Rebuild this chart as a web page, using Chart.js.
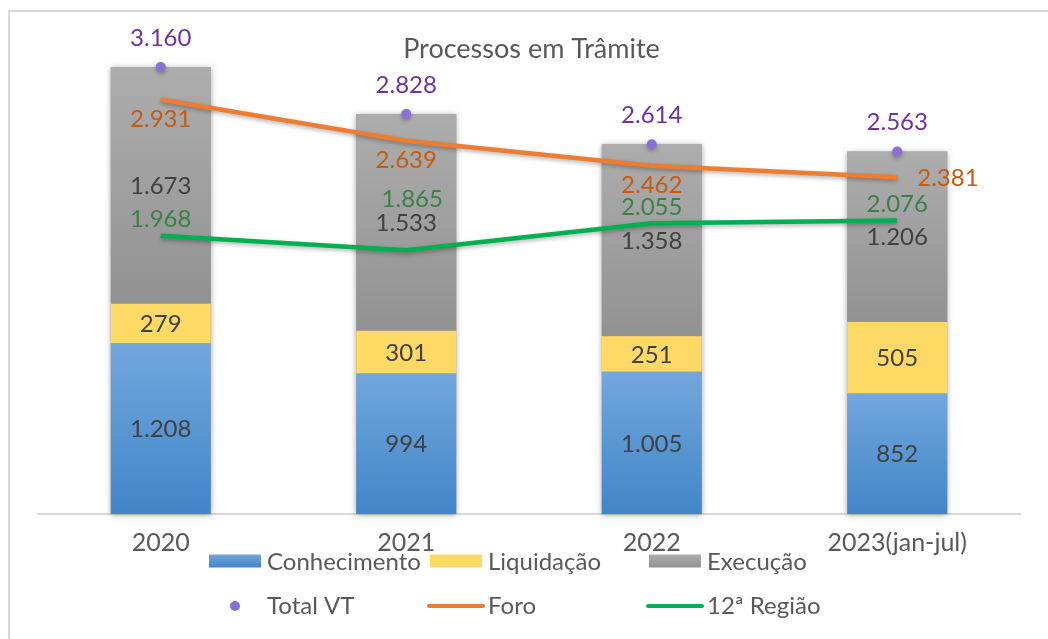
<!DOCTYPE html>
<html>
<head>
<meta charset="utf-8">
<script src="https://cdn.jsdelivr.net/npm/chart.js@4.4.1/dist/chart.umd.min.js"></script>
<style>
  html, body { margin: 0; padding: 0; background: #fff; }
  #wrap { width: 1048px; height: 639px; }
</style>
</head>
<body>
<div id="wrap"><canvas id="chart" width="1048" height="639"></canvas></div>
<script>
// ── Data ──────────────────────────────────────────────────────
const categories   = ['2020', '2021', '2022', '2023(jan-jul)'];
const conhecimento = [1208, 994, 1005, 852];
const liquidacao   = [279, 301, 251, 505];
const execucao     = [1673, 1533, 1358, 1206];
const totalVT      = [3160, 2828, 2614, 2563];
const foro         = [2931, 2639, 2462, 2381];
const regiao12     = [1968, 1865, 2055, 2076];

const FONT = 'Lato, "Open Sans", sans-serif';
const fmt = n => String(n).replace(/\B(?=(\d{3})+(?!\d))/g, '.');

// vertical gradient for one stacked segment, from the y scale
function segGradient(top, bottom, below) {
  return (c) => {
    const chart = c.chart;
    if (!chart.chartArea || c.dataIndex == null) return bottom;
    const y = chart.scales.y;
    const i = c.dataIndex;
    const base = below.reduce((s, arr) => s + arr[i], 0);
    const g = chart.ctx.createLinearGradient(0, y.getPixelForValue(base + c.dataset.data[i]), 0, y.getPixelForValue(base));
    g.addColorStop(0, top);
    g.addColorStop(1, bottom);
    return g;
  };
}

const BLUE = ['#72a7dd', '#4186c8'];
const GRAY = ['#adadad', '#929292'];

// ── Drawing helpers ───────────────────────────────────────────
function text(ctx, str, x, cy, color, size = 24, align = 'center') {
  ctx.font = `${size}px ${FONT}`;
  ctx.fillStyle = color;
  ctx.textAlign = align;
  ctx.textBaseline = 'alphabetic';
  ctx.fillText(str, x, cy + size * 0.36);
}

const decor = {
  id: 'decor',
  beforeDraw(chart) {
    const ctx = chart.ctx;
    ctx.save();
    ctx.fillStyle = '#fff';
    ctx.fillRect(0, 0, chart.width, chart.height);
    ctx.strokeStyle = '#d9d9d9';
    ctx.lineWidth = 2;
    ctx.strokeRect(9, 11, 2000, 2000);
    ctx.restore();
  },
  beforeDatasetsDraw(chart) {
    // soft shadow behind each whole stacked bar
    const ctx = chart.ctx;
    const m0 = chart.getDatasetMeta(0), m2 = chart.getDatasetMeta(2);
    ctx.save();
    ctx.shadowColor = 'rgba(0,0,0,0.35)';
    ctx.shadowBlur = 6;
    ctx.shadowOffsetY = 1;
    ctx.fillStyle = '#999';
    m0.data.forEach((el, i) => {
      const top = m2.data[i];
      ctx.fillRect(el.x - el.width / 2, top.y, el.width, el.base - top.y);
    });
    ctx.restore();
  },
  beforeDatasetDraw(chart, args) {
    if (args.meta.type !== 'line') return;
    const ctx = chart.ctx;
    ctx.save();
    ctx.shadowColor = 'rgba(0,0,0,0.3)';
    ctx.shadowBlur = 4;
    ctx.shadowOffsetY = 2;
  },
  afterDatasetDraw(chart, args) {
    if (args.meta.type === 'line') chart.ctx.restore();
  },
  afterDatasetsDraw(chart) {
    const ctx = chart.ctx;
    ctx.save();
    // values inside bar segments
    [0, 1, 2].forEach(d => {
      chart.getDatasetMeta(d).data.forEach((el, i) => {
        text(ctx, fmt(chart.data.datasets[d].data[i]), el.x, (el.y + el.base) / 2, '#404040');
      });
    });
    // Total VT above dots
    chart.getDatasetMeta(3).data.forEach((el, i) => {
      text(ctx, fmt(totalVT[i]), el.x, el.y - 30, '#7030a0');
    });
    // Foro below line, last point to the right
    chart.getDatasetMeta(4).data.forEach((el, i) => {
      if (i === foro.length - 1) text(ctx, fmt(foro[i]), el.x + 20, el.y, '#c55a11', 24, 'left');
      else text(ctx, fmt(foro[i]), el.x, el.y + 19, '#c55a11');
    });
    // 12ª Região above line (2021 label nudged up, as in the source)
    const nudge = [[0, 0], [6, -35], [0, 0], [0, 0]];
    chart.getDatasetMeta(5).data.forEach((el, i) => {
      text(ctx, fmt(regiao12[i]), el.x + nudge[i][0], el.y - 17 + nudge[i][1], '#3a8048');
    });
    // title
    text(ctx, 'Processos em Trâmite', 531.5, 48.3, '#595959', 27);
    ctx.restore();
  },
  afterDraw(chart) {
    const ctx = chart.ctx;
    const cols = [209, 430, 649];
    const rows = [561, 605];
    const ds = chart.data.datasets;
    ctx.save();
    // row 1: bar series
    [0, 1, 2].forEach(d => {
      const x = cols[d], y = rows[0];
      const stops = d === 0 ? BLUE : d === 2 ? GRAY : null;
      if (stops) {
        const g = ctx.createLinearGradient(0, y - 6.5, 0, y + 6.5);
        g.addColorStop(0, stops[0]); g.addColorStop(1, stops[1]);
        ctx.fillStyle = g;
      } else ctx.fillStyle = '#ffd966';
      ctx.fillRect(x, y - 6.5, 52, 13);
      text(ctx, ds[d].label, x + 58, y, '#595959', 24, 'left');
    });
    // row 2: dot + lines
    [3, 4, 5].forEach((d, k) => {
      const x = cols[k], y = rows[1];
      if (d === 3) {
        ctx.beginPath();
        ctx.arc(x + 26, y + 1, 5, 0, Math.PI * 2);
        ctx.fillStyle = ds[d].pointBackgroundColor;
        ctx.fill();
      } else {
        ctx.beginPath();
        ctx.moveTo(x - 1, y + 1); ctx.lineTo(x + 53, y + 1);
        ctx.strokeStyle = ds[d].borderColor;
        ctx.lineWidth = 4;
        ctx.lineCap = 'round';
        ctx.stroke();
      }
      text(ctx, ds[d].label, x + 58, y, '#595959', 24, 'left');
    });
    ctx.restore();
  },
};

new Chart(document.getElementById('chart'), {
  type: 'bar',
  data: {
    labels: categories,
    datasets: [
      { label: 'Conhecimento', data: conhecimento, stack: 'p', order: 3,
        backgroundColor: segGradient(BLUE[0], BLUE[1], []) },
      { label: 'Liquidação', data: liquidacao, stack: 'p', order: 3,
        backgroundColor: '#ffd966' },
      { label: 'Execução', data: execucao, stack: 'p', order: 3,
        backgroundColor: segGradient(GRAY[0], GRAY[1], [conhecimento, liquidacao]) },
      { type: 'line', label: 'Total VT', data: totalVT, stack: 'vt', order: 0,
        showLine: false, pointRadius: 5, pointBackgroundColor: '#8b6fd6', pointBorderWidth: 0,
        borderColor: '#8b6fd6' },
      { type: 'line', label: 'Foro', data: foro, stack: 'foro', order: 1,
        borderColor: '#ed7d31', borderWidth: 4.5, pointRadius: 0, tension: 0, fill: false },
      { type: 'line', label: '12ª Região', data: regiao12, stack: 'reg', order: 1,
        borderColor: '#00b050', borderWidth: 4.5, pointRadius: 0, tension: 0, fill: false },
    ],
  },
  options: {
    responsive: false,
    animation: false,
    barPercentage: 0.407,
    categoryPercentage: 1,
    layout: { padding: { left: 38, right: 28, top: 19, bottom: 67 } },
    plugins: { legend: { display: false }, tooltip: { enabled: false } },
    scales: {
      x: {
        stacked: true,
        grid: { display: false, drawTicks: false },
        border: { color: '#d9d9d9', width: 2 },
        ticks: { color: '#595959', font: { family: FONT, size: 25 }, padding: 14 },
      },
      y: { stacked: true, display: false, min: 0, max: 3500 },
    },
  },
  plugins: [decor],
});
</script>
</body>
</html>
